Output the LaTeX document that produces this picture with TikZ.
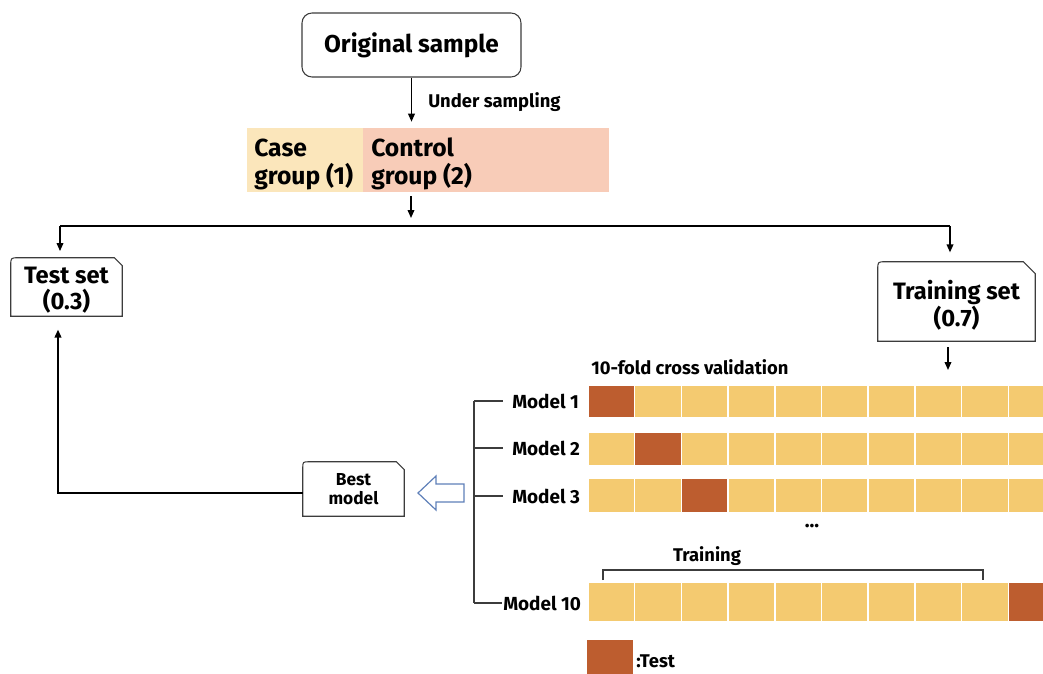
\documentclass[tikz,border=0pt]{standalone}
\usepackage{fontspec}
\setmainfont{Fira Sans}
\usetikzlibrary{arrows.meta,calc}
\definecolor{caseY}{RGB}{251,230,187}
\definecolor{ctrlR}{RGB}{248,204,184}
\definecolor{barY}{RGB}{244,202,112}
\definecolor{barD}{RGB}{189,93,47}
\definecolor{boxline}{RGB}{60,60,60}
\definecolor{hollow}{RGB}{95,128,185}
\newcommand\snipbox[3]{%
  \draw[boxline,line width=0.8pt] (#1.south west) -- ([yshift=-#2]#1.north west)
    .. controls (#1.north west) .. ([xshift=#2]#1.north west)
    -- ([xshift=-#3]#1.north east) -- ([yshift=-#3]#1.north east)
    -- (#1.south east) -- cycle;}
\begin{document}
\begin{tikzpicture}[x=0.75pt,y=-0.75pt,
  arr/.style={line width=1.1pt,-{Triangle[length=6pt,width=5pt]}},
  plain/.style={line width=1.1pt},
  bigtxt/.style={font=\bfseries\fontsize{18.3}{22}\selectfont},
  settxt/.style={font=\bfseries\fontsize{17.8}{20}\selectfont,align=center},
  smalltxt/.style={font=\bfseries\fontsize{13.8}{16}\selectfont},
  modellbl/.style={font=\bfseries\fontsize{14.2}{16}\selectfont,inner sep=0pt,anchor=west},
  grouptxt/.style={font=\bfseries\fontsize{18.5}{21}\selectfont,align=left,inner sep=0pt,anchor=west},
  plainbox/.style={minimum width=#1,inner sep=0pt},
]
\useasboundingbox (0,0) rectangle (1043,674);

% Original sample
\node[draw=boxline,line width=0.8pt,rounded corners=7.5pt,minimum width={219*0.75pt},minimum height={64*0.75pt},bigtxt] (orig) at (411.5,45) {Original sample};

% Case / control
\node[fill=caseY,minimum width={116*0.75pt},minimum height={64*0.75pt},inner sep=0pt] (case) at (305,160) {};
\node[fill=ctrlR,minimum width={246*0.75pt},minimum height={64*0.75pt},inner sep=0pt] (ctrl) at (486,160) {};
\node[grouptxt] (casetxt) at (254,164) {Case\\group (1)};
\node[grouptxt] (ctrltxt) at (371,164) {Control\\group (2)};

\draw[arr,shorten >=4.5pt] (orig.south) -- (orig.south |- ctrl.north);
\node[smalltxt,anchor=west,inner sep=0pt] (under) at (428,102) {Under sampling};

% split
\coordinate (sm) at (411,226);
\coordinate (sl) at (60,226);
\coordinate (sr) at (950,226);
\draw[arr,shorten <=3pt,shorten >=6pt] (sm |- ctrl.south) -- (sm);
\draw[plain] (sl) -- (sr);

% Test set / Training set
\node[plainbox={111*0.75pt},minimum height={58*0.75pt},settxt] (testtxt) at (66.5,290) {Test set\\(0.3)};
\node[plainbox={111*0.75pt},minimum height={58*0.75pt}] (test) at (66.5,287) {};
\snipbox{test}{6pt}{6pt}
\node[plainbox={157*0.75pt},minimum height={79*0.75pt},settxt] (traintxt) at (956.5,305.5) {Training set\\(0.7)};
\node[plainbox={157*0.75pt},minimum height={79*0.75pt}] (train) at (956.5,301.5) {};
\snipbox{train}{6pt}{9pt}
\draw[arr,shorten >=5pt] (sl) -- (sl |- test.north);
\draw[arr,shorten >=7pt] (sr) -- (sr |- train.north);

\coordinate (cvtop) at (948,370);
\draw[arr,shorten <=4.5pt] (cvtop |- train.south) -- (cvtop);
\node[smalltxt,anchor=west,inner sep=0pt] (cvlbl) at (591,367) {10-fold cross validation};

% bars
\foreach \top/\bot/\dark in {385/418/0, 432/466/1, 478/513/2, 582/622/9} {
  \foreach \i in {0,...,9} {
    \pgfmathsetmacro\xa{588+46.7*\i}
    \pgfmathsetmacro\xb{588+46.7*(\i+1)}
    \ifnum\i=\dark \def\cc{barD}\else\def\cc{barY}\fi
    \filldraw[fill=\cc,draw=white,line width=1.1pt] (\xa,\top) rectangle (\xb,\bot);
  }
}

% model labels and bracket
\node[modellbl] (m1) at (512,401) {Model 1};
\node[modellbl] (m2) at (512,448) {Model 2};
\node[modellbl] (m3) at (512,496) {Model 3};
\node[modellbl] (m10) at (503,603) {Model 10};
\coordinate (b1) at (474,401);
\coordinate (b2) at (474,448);
\coordinate (b3) at (474,496);
\coordinate (b10) at (474,603);
\draw[line width=0.9pt,boxline] (b1) -- (b10);
\draw[line width=0.9pt,boxline] (b1) -- ([xshift=-6.5pt]m1.west);
\draw[line width=0.9pt,boxline] (b2) -- ([xshift=-6.5pt]m2.west);
\draw[line width=0.9pt,boxline] (b3) -- ([xshift=-6.5pt]m3.west);
\draw[line width=0.9pt,boxline] (b10) -- ([xshift=-1pt]m10.west);

\node[font=\bfseries\fontsize{15}{16}\selectfont,inner sep=0pt] (dots) at (812,526) {...};

% training bracket
\coordinate (tl) at (603,580);
\coordinate (tr) at (983,580);
\draw[line width=0.9pt,boxline] (tl) -- ++(0,-10) -| (tr);
\node[smalltxt,inner sep=0pt] (trlbl) at (707,556) {Training};

% legend
\node[fill=barD,minimum width={46*0.75pt},minimum height={34*0.75pt},inner sep=0pt] (legsq) at (610,657) {};
\node[smalltxt,anchor=west,inner sep=0pt] (leglbl) at (636,661) {:Test};

% best model
\node[plainbox={101*0.75pt},minimum height={54*0.75pt},font=\bfseries\fontsize{13}{14.5}\selectfont,align=center] (best) at (353.5,489) {Best\\model};
\snipbox{best}{5pt}{6pt}

% hollow arrow
\draw[hollow,line width=0.9pt,fill=white] (418,493) -- (436,476) -- (436,484) -- (464,484) -- (464,502) -- (436,502) -- (436,510) -- cycle;

% feedback to test set
\coordinate (fb) at (58,493);
\draw[line width=1.3pt,-{Triangle[length=6pt,width=5pt]},shorten >=10pt] (best.west |- fb) -- (fb) -- (fb |- test.south);
\end{tikzpicture}
\end{document}
